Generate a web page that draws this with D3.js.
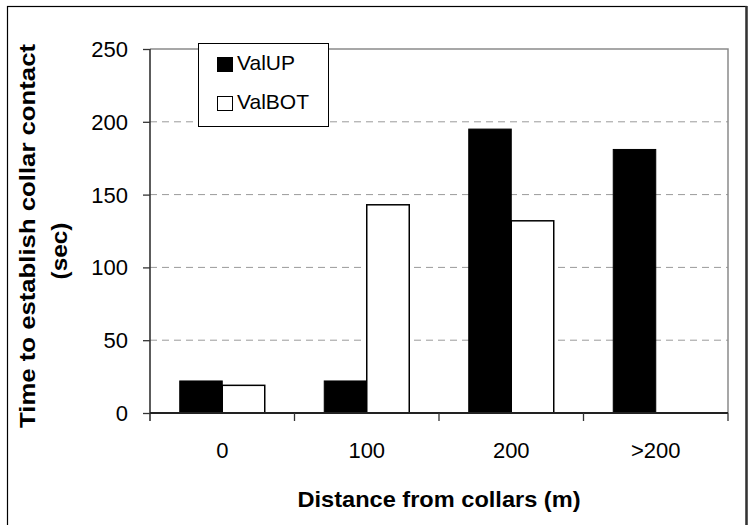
<!DOCTYPE html>
<html>
<head>
<meta charset="utf-8">
<script src="https://cdn.jsdelivr.net/npm/d3@7"></script>
<style>
  html, body { margin: 0; padding: 0; background: #fff; }
  svg { display: block; }
  text { font-family: Arial, "Liberation Sans", sans-serif; fill: #000; }
</style>
</head>
<body>
<svg id="chart" width="750" height="525"></svg>
<script>
// Distances from the collars and the two series
const categories = ["0", "100", "200", ">200"];
const seriesNames = ["ValUP", "ValBOT"];
const valUP = [22, 22, 195, 181];
const valBOT = [19, 143, 132, 0];
const yTicks = [0, 50, 100, 150, 200, 250];

const svg = d3.select("#chart");
const W = 750, H = 525;
const plot = { left: 150, right: 728, top: 49, bottom: 413 };

// Outer frame
svg.append("rect")
  .attr("x", 7.5).attr("y", 6.5)
  .attr("width", 739).attr("height", 530)
  .attr("fill", "#fff").attr("stroke", "#000").attr("stroke-width", 1.2);
svg.append("line")
  .attr("x1", 746.5).attr("x2", 746.5).attr("y1", 6).attr("y2", H)
  .attr("stroke", "#333").attr("stroke-width", 2.5);

const x0 = d3.scaleBand().domain(categories).range([plot.left, plot.right]).padding(0);
const groupW = 85;
const x1 = d3.scaleBand().domain(seriesNames).range([0, groupW]).padding(0);
const y = d3.scaleLinear().domain([0, 250]).range([plot.bottom, plot.top]);

// Horizontal gridlines
svg.append("g").selectAll("line")
  .data(yTicks.filter(t => t > 0 && t < 250))
  .join("line")
  .attr("x1", plot.left).attr("x2", plot.right)
  .attr("y1", d => y(d)).attr("y2", d => y(d))
  .attr("stroke", "#9a9a9a").attr("stroke-width", 1)
  .attr("stroke-dasharray", "7,5");

// Plot area top and right edges
svg.append("path")
  .attr("d", `M${plot.left},${y(250)}H${plot.right}V${plot.bottom}`)
  .attr("fill", "none").attr("stroke", "#8a8a8a").attr("stroke-width", 1.5);

// Bars
const rows = categories.map((c, i) => ({ cat: c, values: [
  { s: "ValUP", v: valUP[i] }, { s: "ValBOT", v: valBOT[i] }
]}));

const groups = svg.append("g").selectAll("g")
  .data(rows).join("g")
  .attr("transform", d => `translate(${x0(d.cat) + (x0.bandwidth() - groupW) / 2},0)`);

groups.selectAll("rect")
  .data(d => d.values.filter(e => e.v > 0))
  .join("rect")
  .attr("x", d => x1(d.s))
  .attr("y", d => y(d.v))
  .attr("width", x1.bandwidth())
  .attr("height", d => y(0) - y(d.v))
  .attr("fill", d => d.s === "ValUP" ? "#000" : "#fff")
  .attr("stroke", "#000")
  .attr("stroke-width", d => d.s === "ValUP" ? 1 : 1.5);

// Y axis
const yAxis = svg.append("g")
  .attr("transform", `translate(${plot.left},0)`)
  .call(d3.axisLeft(y).tickValues(yTicks).tickSize(7).tickPadding(14).tickSizeOuter(0));
yAxis.select(".domain").attr("stroke", "#333").attr("stroke-width", 1.6)
  .attr("d", `M0,${plot.top}V${plot.bottom + 8}`);
yAxis.selectAll(".tick line").attr("stroke", "#333").attr("stroke-width", 1.3);
yAxis.selectAll(".tick text")
  .attr("font-size", 22).attr("font-family", "Arial, 'Liberation Sans', sans-serif")
  .attr("fill", "#000").attr("x", -22).attr("dy", "0.34em");

// X axis: ticks at the category boundaries
const xAxis = svg.append("g");
xAxis.append("line")
  .attr("x1", plot.left).attr("x2", plot.right)
  .attr("y1", plot.bottom).attr("y2", plot.bottom)
  .attr("stroke", "#222").attr("stroke-width", 2);
const boundaries = categories.map(c => x0(c)).concat([x0(categories[categories.length - 1]) + x0.bandwidth()]);
xAxis.selectAll("line.tk")
  .data(boundaries.slice(1))
  .join("line").attr("class", "tk")
  .attr("x1", d => d).attr("x2", d => d)
  .attr("y1", plot.bottom).attr("y2", plot.bottom + 8)
  .attr("stroke", "#333").attr("stroke-width", 1.3);
xAxis.selectAll("text")
  .data(categories)
  .join("text")
  .attr("x", d => x0(d) + x0.bandwidth() / 2)
  .attr("y", 458)
  .attr("text-anchor", "middle")
  .attr("font-size", 22)
  .text(d => d);

// Axis titles
svg.append("text")
  .attr("x", (plot.left + plot.right) / 2).attr("y", 507)
  .attr("text-anchor", "middle")
  .attr("font-size", 22).attr("font-weight", "bold")
  .attr("textLength", 283).attr("lengthAdjust", "spacingAndGlyphs")
  .text("Distance from collars (m)");

svg.append("text")
  .attr("transform", "translate(35,236) rotate(-90)")
  .attr("text-anchor", "middle")
  .attr("font-size", 22).attr("font-weight", "bold")
  .attr("textLength", 384).attr("lengthAdjust", "spacingAndGlyphs")
  .text("Time to establish collar contact");
svg.append("text")
  .attr("transform", "translate(67,251) rotate(-90)")
  .attr("text-anchor", "middle")
  .attr("font-size", 22).attr("font-weight", "bold")
  .attr("textLength", 57).attr("lengthAdjust", "spacingAndGlyphs")
  .text("(sec)");

// Legend
const legend = svg.append("g");
legend.append("rect")
  .attr("x", 198.5).attr("y", 43.5).attr("width", 130).attr("height", 83)
  .attr("fill", "#fff").attr("stroke", "#000").attr("stroke-width", 1);
const legendRows = legend.selectAll("g.item")
  .data(seriesNames).join("g").attr("class", "item")
  .attr("transform", (d, i) => `translate(0,${i * 39})`);
legendRows.append("rect")
  .attr("x", 217.5).attr("y", 57.5).attr("width", 15).attr("height", 14)
  .attr("fill", d => d === "ValUP" ? "#000" : "#fff")
  .attr("stroke", "#000").attr("stroke-width", 1);
legendRows.append("text")
  .attr("x", 237).attr("y", 69.5)
  .attr("font-size", 21)
  .text(d => d);
</script>
</body>
</html>
